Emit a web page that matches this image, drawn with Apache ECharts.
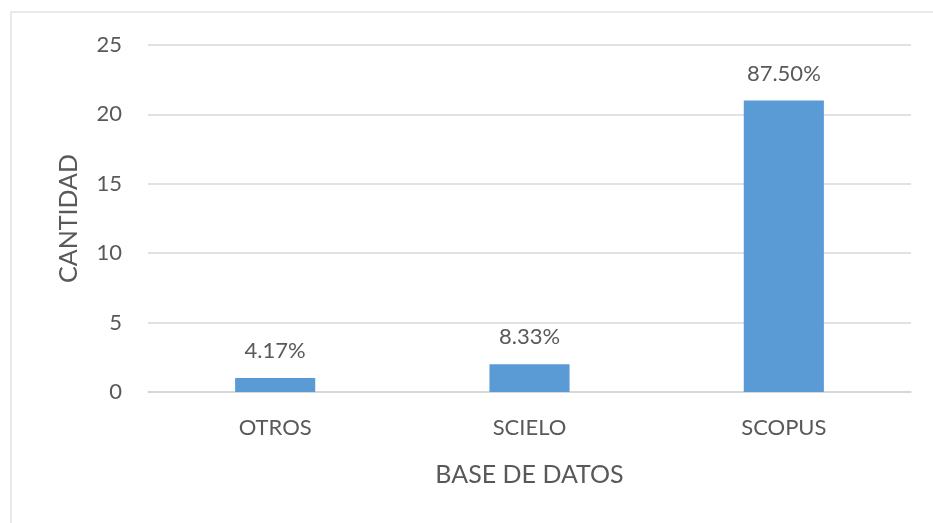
<!DOCTYPE html>
<html><head><meta charset="utf-8">
<script src="https://cdn.jsdelivr.net/npm/echarts@6/dist/echarts.min.js"></script>
<style>html,body{margin:0;padding:0;background:#fff}#c{width:933px;height:523px}</style>
</head><body><div id="c"></div>
<script>
const categories = ['OTROS', 'SCIELO', 'SCOPUS'];
const values = [1, 2, 21];
const percentLabels = ['4.17%', '8.33%', '87.50%'];
const yTicks = [0, 5, 10, 15, 20, 25];

const chart = echarts.init(document.getElementById('c'));
const font = 'Lato, "Open Sans", sans-serif';
chart.setOption({
  animation: false,
  graphic: [{ type: 'rect', shape: { x: 11, y: 12, width: 940, height: 530 }, style: { fill: 'none', stroke: '#e3e3e3', lineWidth: 1.5 }, silent: true }],
  grid: { left: 148, right: 22, top: 45, bottom: 131 },
  xAxis: {
    type: 'category', data: categories,
    axisLine: { lineStyle: { color: '#d4d4d4', width: 1.5 } },
    axisTick: { show: false },
    axisLabel: { color: '#595959', fontSize: 22, fontFamily: font, margin: 25 },
    name: 'BASE DE DATOS', nameLocation: 'middle', nameGap: 70,
    nameTextStyle: { color: '#595959', fontSize: 25, fontFamily: font }
  },
  yAxis: {
    type: 'value', min: yTicks[0], max: yTicks[yTicks.length - 1], interval: 5,
    axisLine: { show: false }, axisTick: { show: false },
    splitLine: { lineStyle: { color: '#d9d9d9', width: 1.5 } },
    axisLabel: { color: '#595959', fontSize: 22, fontFamily: font, margin: 26 },
    name: 'CANTIDAD', nameLocation: 'middle', nameGap: 67, nameRotate: 90,
    nameTextStyle: { color: '#595959', fontSize: 25, fontFamily: font }
  },
  series: [{
    type: 'bar', data: values, barWidth: '31.5%',
    itemStyle: { color: '#5b9bd5' },
    label: { show: true, position: 'top', distance: 16, color: '#595959', fontSize: 22, fontFamily: font,
      formatter: p => percentLabels[p.dataIndex] }
  }]
});
</script></body></html>
